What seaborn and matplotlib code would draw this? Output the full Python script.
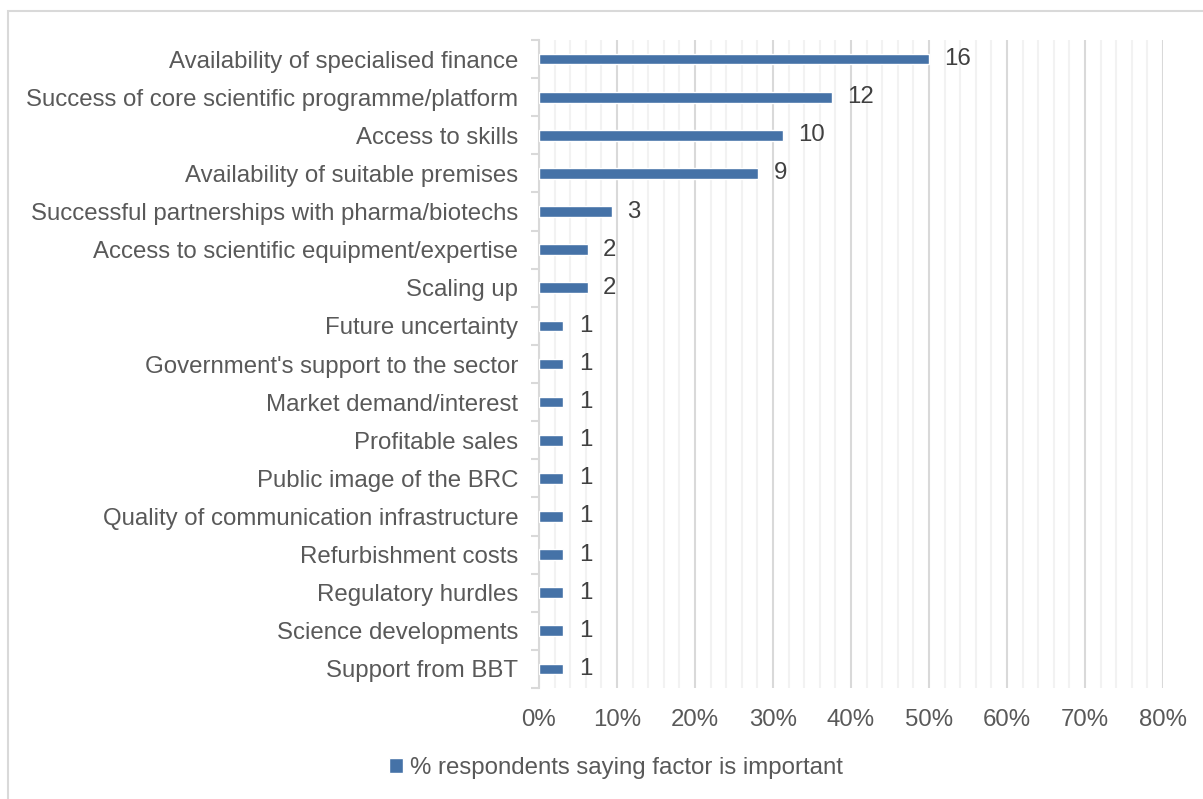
import matplotlib
matplotlib.use("Agg")
import matplotlib.pyplot as plt
from matplotlib.patches import Rectangle
from matplotlib.ticker import MultipleLocator, FuncFormatter, FixedLocator
import seaborn as sns
import pandas as pd

factors = [
    "Availability of specialised finance",
    "Success of core scientific programme/platform",
    "Access to skills",
    "Availability of suitable premises",
    "Successful partnerships with pharma/biotechs",
    "Access to scientific equipment/expertise",
    "Scaling up",
    "Future uncertainty",
    "Government's support to the sector",
    "Market demand/interest",
    "Profitable sales",
    "Public image of the BRC",
    "Quality of communication infrastructure",
    "Refurbishment costs",
    "Regulatory hurdles",
    "Science developments",
    "Support from BBT",
]
counts = [16, 12, 10, 9, 3, 2, 2, 1, 1, 1, 1, 1, 1, 1, 1, 1, 1]
total_respondents = 32
series_name = "% respondents saying factor is important"

df = pd.DataFrame({"factor": factors, "count": counts})
df["share"] = df["count"] / total_respondents

sns.set_theme(style="white")
plt.rcParams["font.family"] = ["Liberation Sans", "DejaVu Sans"]

text_color = "#595959"
bar_color = "#4572a7"
fs = 17.3

fig = plt.figure(figsize=(12.03, 7.99), dpi=100)
ax = fig.add_axes([539 / 1203, 1 - 688 / 799, 624 / 1203, 648 / 799])

sns.barplot(data=df, x="share", y="factor", orient="h", color=bar_color,
            width=0.28, saturation=1, ax=ax, label=series_name, zorder=3,
            legend=False)
if ax.get_legend() is not None:
    ax.get_legend().remove()

ax.set_xlim(0, 0.8)
ax.set_ylim(len(factors) - 0.5, -0.5)
ax.xaxis.set_major_locator(MultipleLocator(0.1))
ax.xaxis.set_minor_locator(MultipleLocator(0.02))
ax.xaxis.set_major_formatter(FuncFormatter(lambda v, p: f"{v * 100:.0f}%"))
ax.grid(axis="x", which="major", color="#d9d9d9", linewidth=1.5, zorder=0)
ax.grid(axis="x", which="minor", color="#f2f2f2", linewidth=1.5, zorder=0)
ax.set_axisbelow(True)

ax.set_xlabel("")
ax.set_ylabel("")
for side in ["top", "right", "bottom"]:
    ax.spines[side].set_visible(False)
ax.spines["left"].set_color("#d9d9d9")
ax.spines["left"].set_linewidth(1.5)

# category boundary ticks on the left spine
ax.yaxis.set_minor_locator(FixedLocator([i - 0.5 for i in range(len(factors) + 1)]))
ax.tick_params(axis="y", which="minor", length=6, width=1.5, color="#d9d9d9",
               direction="out", left=True)
ax.tick_params(axis="y", which="major", length=0, pad=15, labelsize=fs,
               labelcolor=text_color)
ax.tick_params(axis="x", which="both", length=0, pad=15, labelsize=fs,
               labelcolor=text_color)

ax.bar_label(ax.containers[0], labels=[str(c) for c in counts], padding=11,
             fontsize=fs, color="#404040")

handles, labels = ax.get_legend_handles_labels()
fig.legend(handles[:1], labels[:1], loc="center",
           bbox_to_anchor=(616 / 1203, 1 - 768 / 799),
           frameon=False, fontsize=fs, handlelength=0.6, handleheight=0.6,
           handletextpad=0.3, labelcolor=text_color)

# outer chart frame
fig.patches.append(Rectangle((8 / 1203, -0.05), 1.2, 1 - 11 / 799 + 0.05,
                             transform=fig.transFigure, fill=False,
                             edgecolor="#d9d9d9", linewidth=1.5))

fig.savefig("out.png", dpi=100)
